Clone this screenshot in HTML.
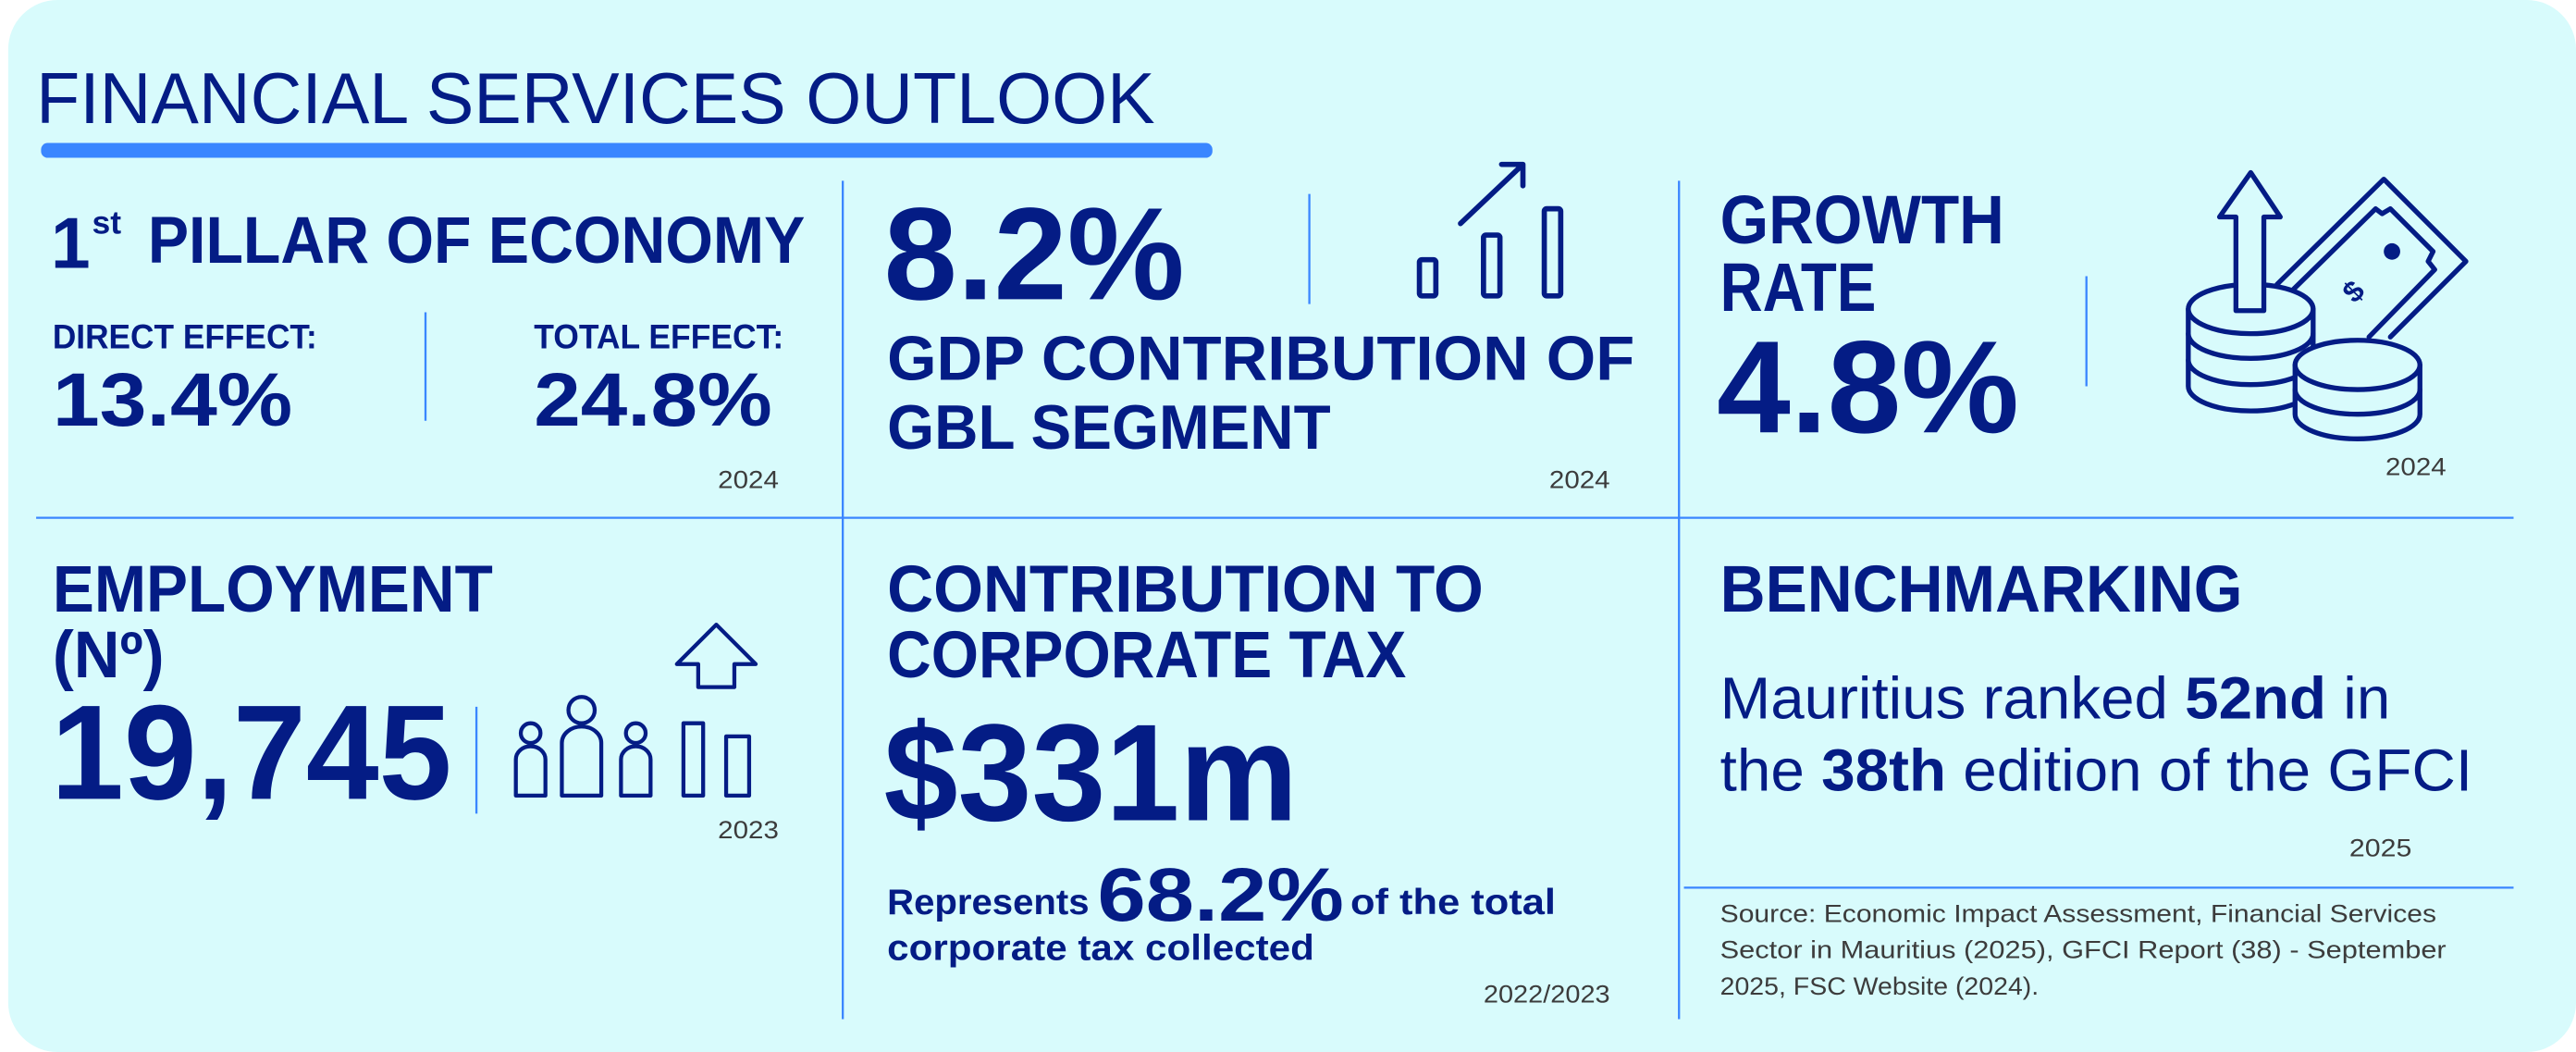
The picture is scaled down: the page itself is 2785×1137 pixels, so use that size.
<!DOCTYPE html>
<html><head><meta charset="utf-8"><style>
html,body{margin:0;padding:0;background:#fff;}
svg{display:block;}
text{font-family:"Liberation Sans",sans-serif;fill:#041c85;}
.b{font-weight:700;}
.g{fill:#3c3c3c;font-size:15px;}
.ln{stroke:#3a86ff;stroke-width:1.3;}
.ic{fill:none;stroke:#041c85;stroke-width:3.2;stroke-linejoin:round;stroke-linecap:round;}
</style></head><body>
<svg width="2785" height="1137" viewBox="0 0 1568 640" preserveAspectRatio="none">
<rect x="5" y="0" width="1563" height="640" rx="30" fill="#d8fbfc"/>
<text x="22" y="75" font-size="44" textLength="681" lengthAdjust="spacingAndGlyphs">FINANCIAL SERVICES OUTLOOK</text>
<rect x="25" y="87" width="713" height="9" rx="4" fill="#3a86ff"/>
<g>
<line class="ln" x1="513" y1="110" x2="513" y2="620"/>
<line class="ln" x1="1022" y1="110" x2="1022" y2="620"/>
<line class="ln" x1="22" y1="315" x2="1530" y2="315"/>
<line class="ln" x1="1025" y1="540" x2="1530" y2="540"/>
<line class="ln" x1="259" y1="190" x2="259" y2="256"/>
<line class="ln" x1="797" y1="118" x2="797" y2="185"/>
<line class="ln" x1="1270" y1="168" x2="1270" y2="235"/>
<line class="ln" x1="290" y1="430" x2="290" y2="495"/>
</g>
<g>
<text class="b" x="31" y="163" font-size="44" textLength="24" lengthAdjust="spacingAndGlyphs">1</text>
<text class="b" x="56" y="142" font-size="20">st</text>
<text class="b" x="90" y="160" font-size="40" textLength="400" lengthAdjust="spacingAndGlyphs">PILLAR OF ECONOMY</text>
<text class="b" x="32" y="212" font-size="21" textLength="161" lengthAdjust="spacingAndGlyphs">DIRECT EFFECT:</text>
<text class="b" x="325" y="212" font-size="21" textLength="152" lengthAdjust="spacingAndGlyphs">TOTAL EFFECT:</text>
<text class="b" x="32" y="259" font-size="46" textLength="146" lengthAdjust="spacingAndGlyphs">13.4%</text>
<text class="b" x="325" y="259" font-size="46" textLength="145" lengthAdjust="spacingAndGlyphs">24.8%</text>
<text class="g" x="437" y="297" textLength="37" lengthAdjust="spacingAndGlyphs">2024</text>
</g>
<g>
<text class="b" x="538" y="182" font-size="80" textLength="183" lengthAdjust="spacingAndGlyphs">8.2%</text>
<text class="b" x="540" y="231" font-size="38" textLength="455" lengthAdjust="spacingAndGlyphs">GDP CONTRIBUTION OF</text>
<text class="b" x="540" y="273" font-size="38" textLength="270" lengthAdjust="spacingAndGlyphs">GBL SEGMENT</text>
<text class="g" x="943" y="297" textLength="37" lengthAdjust="spacingAndGlyphs">2024</text>
<g class="ic">
<rect x="864" y="158" width="10" height="22" rx="1.5"/>
<rect x="903" y="143" width="10" height="37" rx="1.5"/>
<rect x="940" y="127" width="10" height="53" rx="1.5"/>
<path d="M889 136 L927 100 M914 100 L927 100 L927 113"/>
</g>
</g>
<g>
<text class="b" x="1047" y="148" font-size="42" textLength="173" lengthAdjust="spacingAndGlyphs">GROWTH</text>
<text class="b" x="1047" y="189" font-size="42" textLength="95" lengthAdjust="spacingAndGlyphs">RATE</text>
<text class="b" x="1045" y="263" font-size="80" textLength="184" lengthAdjust="spacingAndGlyphs">4.8%</text>
<text class="g" x="1452" y="289" textLength="37" lengthAdjust="spacingAndGlyphs">2024</text>
<g class="ic" style="stroke-width:3">
<path d="M1386 173 L1451 109 L1501 159 L1455 205"/>
<path d="M1396 176 L1446 127 L1450 130 L1455 127 L1481 153 L1478 159 L1482 164 L1442 205"/>
<circle cx="1456" cy="153" r="5" fill="#041c85" stroke="none"/>
<text x="1427" y="182" font-size="18" class="b" style="stroke:none" transform="rotate(-45 1434 176)">$</text>
<path d="M1332 188 L1332 235 A38 15 0 0 0 1408 235 L1408 188 Z" fill="#d8fbfc"/>
<ellipse cx="1370" cy="188" rx="38" ry="15" fill="#d8fbfc"/>
<path d="M1332 203 A38 15 0 0 0 1408 203 M1332 219 A38 15 0 0 0 1408 219"/>
<path d="M1397 222 L1397 252 A38 15 0 0 0 1473 252 L1473 222 Z" fill="#d8fbfc"/>
<ellipse cx="1435" cy="222" rx="38" ry="15" fill="#d8fbfc"/>
<path d="M1397 237 A38 15 0 0 0 1473 237"/>
<path d="M1361 189 L1361 132 L1351 132 L1370 105 L1388 132 L1378 132 L1378 189 Z" fill="#d8fbfc"/>
</g>
</g>
<g>
<text class="b" x="32" y="372" font-size="40" textLength="268" lengthAdjust="spacingAndGlyphs">EMPLOYMENT</text>
<text class="b" x="32" y="412" font-size="40" textLength="68" lengthAdjust="spacingAndGlyphs">(Nº)</text>
<text class="b" x="31" y="486" font-size="82" textLength="244" lengthAdjust="spacingAndGlyphs">19,745</text>
<text class="g" x="437" y="510" textLength="37" lengthAdjust="spacingAndGlyphs">2023</text>
<g class="ic" style="stroke-width:2.4">
<circle cx="323" cy="446" r="6"/><path d="M314 484 L314 462 A9 8 0 0 1 332 462 L332 484 Z"/>
<circle cx="354" cy="432" r="8"/><path d="M342 484 L342 452 A12 10 0 0 1 366 452 L366 484 Z"/>
<circle cx="387" cy="446" r="6"/><path d="M378 484 L378 462 A9 8 0 0 1 396 462 L396 484 Z"/>
</g>
<g class="ic" style="stroke-width:2.4">
<path d="M436 380 L412 404 L425 404 L425 418 L447 418 L447 404 L460 404 Z"/>
<rect x="416" y="440" width="12" height="44"/><rect x="442" y="448" width="14" height="36"/>
</g>
</g>
<g>
<text class="b" x="540" y="372" font-size="40" textLength="363" lengthAdjust="spacingAndGlyphs">CONTRIBUTION TO</text>
<text class="b" x="540" y="412" font-size="40" textLength="316" lengthAdjust="spacingAndGlyphs">CORPORATE TAX</text>
<text class="b" x="538" y="499" font-size="84" textLength="252" lengthAdjust="spacingAndGlyphs">$331m</text>
<text class="b" x="540" y="556" font-size="22" textLength="123" lengthAdjust="spacingAndGlyphs">Represents</text>
<text class="b" x="668" y="560" font-size="46" textLength="150" lengthAdjust="spacingAndGlyphs">68.2%</text>
<text class="b" x="822" y="556" font-size="22" textLength="125" lengthAdjust="spacingAndGlyphs">of the total</text>
<text class="b" x="540" y="584" font-size="22" textLength="260" lengthAdjust="spacingAndGlyphs">corporate tax collected</text>
<text class="g" x="903" y="610" textLength="77" lengthAdjust="spacingAndGlyphs">2022/2023</text>
</g>
<g>
<text class="b" x="1047" y="372" font-size="40" textLength="318" lengthAdjust="spacingAndGlyphs">BENCHMARKING</text>
<text x="1047" y="437" font-size="36" textLength="408" lengthAdjust="spacingAndGlyphs">Mauritius ranked <tspan class="b">52nd</tspan> in</text>
<text x="1047" y="481" font-size="36" textLength="458" lengthAdjust="spacingAndGlyphs">the <tspan class="b">38th</tspan> edition of the GFCI</text>
<text class="g" x="1430" y="521" textLength="38" lengthAdjust="spacingAndGlyphs">2025</text>
<text x="1047" y="561" font-size="15" style="fill:#3c3c3c" textLength="436" lengthAdjust="spacingAndGlyphs">Source: Economic Impact Assessment, Financial Services</text>
<text x="1047" y="583" font-size="15" style="fill:#3c3c3c" textLength="442" lengthAdjust="spacingAndGlyphs">Sector in Mauritius (2025), GFCI Report (38) - September</text>
<text x="1047" y="605" font-size="15" style="fill:#3c3c3c" textLength="194" lengthAdjust="spacingAndGlyphs">2025, FSC Website (2024).</text>
</g>
</svg>
</body></html>
